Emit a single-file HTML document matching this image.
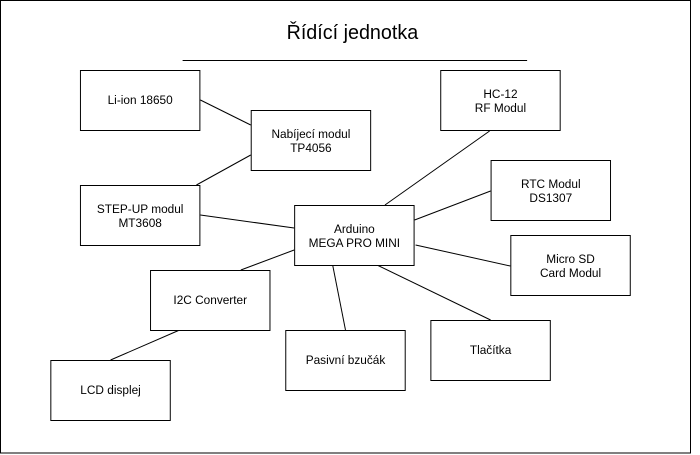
<!DOCTYPE html>
<html><head><meta charset="utf-8"><style>
html,body{margin:0;padding:0;background:#fff;}
svg{display:block;}
text{font-family:"Liberation Sans",Arial,sans-serif;font-size:12px;fill:#000;}
</style></head><body>
<svg width="700" height="455" xmlns="http://www.w3.org/2000/svg">
<rect x="0.5" y="0.5" width="690" height="452.5" fill="#fff" stroke="#000"/>
<g transform="scale(0.9871,1)">
<text x="357" y="39" text-anchor="middle" style="font-size:20px">Řídící jednotka</text>
<line x1="185" y1="60.5" x2="534" y2="60.5" stroke="#000"/>
<g stroke="#000" stroke-width="1" fill="none">
<line x1="203" y1="100" x2="254" y2="125"/>
<line x1="254" y1="155" x2="199" y2="185"/>
<line x1="203" y1="215" x2="298" y2="228"/>
<line x1="496" y1="131" x2="390" y2="205"/>
<line x1="497" y1="191" x2="420" y2="220"/>
<line x1="421" y1="245" x2="517" y2="266"/>
<line x1="298" y1="250" x2="244" y2="270"/>
<line x1="337" y1="265" x2="350" y2="330"/>
<line x1="382" y1="265" x2="497" y2="320"/>
<line x1="182" y1="330" x2="112" y2="360"/>
</g>
<g fill="#fff" stroke="#000">
<rect x="81.5" y="70.5" width="121" height="60"/>
<rect x="254.5" y="110.5" width="121" height="60"/>
<rect x="81.5" y="185.5" width="121" height="60"/>
<rect x="298.5" y="205.5" width="121" height="60"/>
<rect x="446.5" y="70.5" width="121" height="60"/>
<rect x="497.5" y="160.5" width="121" height="60"/>
<rect x="517.5" y="235.5" width="121" height="60"/>
<rect x="152.5" y="270.5" width="121" height="60"/>
<rect x="289.5" y="330.5" width="121" height="60"/>
<rect x="436.5" y="320.5" width="121" height="60"/>
<rect x="51.5" y="360.5" width="121" height="60"/>
</g>
<g text-anchor="middle">
<text x="142" y="104">Li-ion 18650</text>
<text x="315" y="138">Nabíjecí modul</text>
<text x="315" y="152">TP4056</text>
<text x="142" y="213">STEP-UP modul</text>
<text x="142" y="227">MT3608</text>
<text x="359" y="233">Arduino</text>
<text x="359" y="247">MEGA PRO MINI</text>
<text x="507" y="98">HC-12</text>
<text x="507" y="112">RF Modul</text>
<text x="558" y="188">RTC Modul</text>
<text x="558" y="202">DS1307</text>
<text x="578" y="263">Micro SD</text>
<text x="578" y="277">Card Modul</text>
<text x="213" y="304">I2C Converter</text>
<text x="350" y="364">Pasivní bzučák</text>
<text x="497" y="354">Tlačítka</text>
<text x="112" y="394">LCD displej</text>
</g>
</g>
</svg>
</body></html>
